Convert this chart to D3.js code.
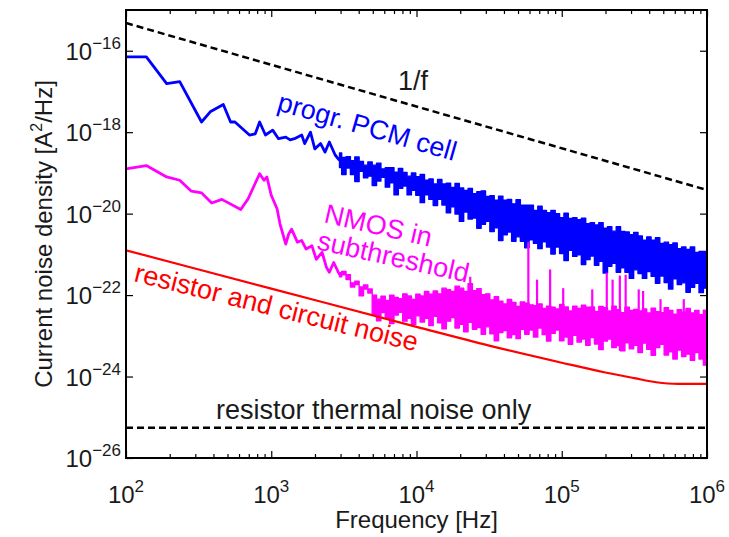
<!DOCTYPE html>
<html>
<head>
<meta charset="utf-8">
<script src="https://cdn.jsdelivr.net/npm/d3@7"></script>
<style>
body { margin: 0; background: #fff; }
text { font-family: "Liberation Sans", Arial, sans-serif; fill: #1a1a1a; }
</style>
</head>
<body>
<svg id="chart" width="729" height="537"></svg>
<script>
"use strict";

// all values are log10: frequency in Hz, noise density in A^2/Hz
const xDecades = [2, 3, 4, 5, 6];
const yDecades = [-26, -24, -22, -20, -18, -16];

const oneOverF = { logF: [2, 6], logS: [-15.32, -19.42] };
const thermal = { logF: [2, 6], logS: [-25.26, -25.26] };

const circuitLogF = [2.0, 3.0, 4.0, 4.5, 5.0, 5.3, 5.5, 5.65, 5.8, 6.0];
const circuitLogS = [-20.90, -21.84, -22.78, -23.24, -23.66, -23.90, -24.04, -24.14, -24.18, -24.18];

// single trace at low frequency
const pcmLowLogF = [2.00, 2.14, 2.28, 2.37, 2.52, 2.58, 2.67, 2.72, 2.75, 2.85, 2.89, 2.92, 2.96,
    3.01, 3.05, 3.10, 3.13, 3.16, 3.21, 3.23, 3.27, 3.30, 3.34, 3.37, 3.40, 3.44];
const pcmLowLogS = [-16.15, -16.15, -16.81, -16.76, -17.75, -17.50, -17.32, -17.75, -17.75, -18.07, -18.04, -17.75, -18.07,
    -17.95, -18.16, -18.12, -18.19, -18.16, -18.07, -18.28, -18.00, -18.41, -18.28, -18.49, -18.24, -18.56];

const nmosLowLogF = [2.00, 2.14, 2.28, 2.37, 2.45, 2.52, 2.59, 2.66, 2.79, 2.84, 2.92, 2.95, 2.97, 3.00,
    3.04, 3.06, 3.10, 3.12, 3.14, 3.18, 3.21, 3.24, 3.28, 3.31, 3.35, 3.38, 3.40, 3.43];
const nmosLowLogS = [-18.90, -18.82, -19.10, -19.18, -19.45, -19.49, -19.74, -19.65, -19.90, -19.64, -19.02, -19.18, -19.10, -19.55,
    -19.88, -20.25, -20.75, -20.50, -20.38, -20.70, -20.66, -20.87, -20.79, -21.12, -20.95, -21.32, -21.44, -21.20];

// dense part: max / min of the trace in each frequency bin
const binLogF = [3.47, 3.50, 3.53, 3.56, 3.59, 3.62, 3.65, 3.68, 3.71, 3.74, 3.77, 3.80, 3.83, 3.86, 3.89, 3.92, 3.95, 3.98,
    4.01, 4.04, 4.07, 4.10, 4.13, 4.16, 4.19, 4.22, 4.25, 4.28, 4.31, 4.34, 4.37, 4.40, 4.43, 4.46, 4.49, 4.52, 4.55, 4.58,
    4.61, 4.64, 4.67, 4.70, 4.73, 4.76, 4.79, 4.82, 4.85, 4.88, 4.91, 4.94, 4.97, 5.00, 5.03, 5.06, 5.09, 5.12, 5.15, 5.18,
    5.21, 5.24, 5.27, 5.30, 5.33, 5.36, 5.39, 5.42, 5.45, 5.48, 5.51, 5.54, 5.57, 5.60, 5.63, 5.66, 5.69, 5.72, 5.75, 5.78,
    5.81, 5.84, 5.87, 5.90, 5.93, 5.96, 5.99];

const pcmHi = [-18.51, -18.62, -18.60, -18.70, -18.61, -18.72, -18.81, -18.73, -18.81, -18.76, -18.90, -18.87, -18.87, -18.98,
    -18.89, -18.99, -19.08, -19.00, -19.09, -19.04, -19.18, -19.15, -19.27, -19.16, -19.27, -19.25, -19.36, -19.26, -19.37,
    -19.43, -19.38, -19.51, -19.46, -19.44, -19.58, -19.56, -19.67, -19.57, -19.67, -19.65, -19.76, -19.66, -19.79, -19.79,
    -19.79, -19.92, -19.82, -19.92, -19.98, -19.92, -20.00, -20.10, -19.99, -20.12, -20.10, -20.15, -20.11, -20.25, -20.22,
    -20.28, -20.22, -20.36, -20.32, -20.43, -20.32, -20.44, -20.45, -20.52, -20.46, -20.55, -20.65, -20.57, -20.65, -20.59,
    -20.73, -20.70, -20.76, -20.72, -20.86, -20.82, -20.88, -20.82, -20.95, -20.93, -20.93];
const pcmLo = [-18.87, -19.04, -18.88, -19.04, -19.21, -18.96, -19.12, -19.08, -19.31, -19.20, -19.11, -19.35, -19.24, -19.54,
    -19.38, -19.32, -19.54, -19.43, -19.55, -19.73, -19.54, -19.65, -19.80, -19.65, -19.79, -19.98, -19.83, -20.01, -20.19,
    -19.96, -20.13, -20.11, -20.36, -20.26, -20.19, -20.44, -20.35, -20.66, -20.52, -20.45, -20.68, -20.57, -20.68, -20.84,
    -20.64, -20.73, -20.86, -20.69, -20.82, -20.99, -20.82, -20.98, -21.15, -20.90, -21.05, -21.01, -21.25, -21.13, -21.04,
    -21.27, -21.17, -21.46, -21.29, -21.22, -21.44, -21.33, -21.44, -21.59, -21.38, -21.47, -21.59, -21.42, -21.54, -21.71,
    -21.53, -21.69, -21.85, -21.60, -21.74, -21.70, -21.93, -21.81, -21.71, -21.94, -21.83];

const nmosHi = [-21.45, -21.42, -21.50, -21.70, -21.66, -21.80, -21.75, -21.85, -22.00, -22.10, -22.03, -22.13, -22.00, -22.06,
    -22.09, -21.97, -22.02, -22.11, -21.98, -22.02, -21.91, -21.98, -21.90, -21.97, -21.83, -21.87, -21.91, -21.78, -21.83,
    -21.91, -21.72, -21.89, -21.84, -21.99, -21.97, -22.12, -22.04, -22.15, -22.22, -22.11, -22.18, -22.28, -22.17, -22.20,
    -22.24, -22.26, -22.22, -22.33, -22.27, -22.30, -22.34, -22.23, -22.29, -22.39, -22.27, -22.33, -22.25, -22.30, -22.29,
    -22.40, -22.28, -22.31, -22.39, -22.27, -22.36, -22.43, -22.30, -22.38, -22.35, -22.39, -22.34, -22.44, -22.32, -22.41,
    -22.43, -22.31, -22.38, -22.47, -22.36, -22.42, -22.33, -22.44, -22.38, -22.48, -22.37];
const nmosLo = [-21.55, -21.50, -21.62, -21.80, -21.74, -22.02, -21.85, -21.95, -22.49, -22.63, -22.43, -22.57, -22.70, -22.49,
    -22.42, -22.64, -22.57, -22.72, -22.51, -22.66, -22.57, -22.75, -22.52, -22.68, -22.83, -22.64, -22.55, -22.81, -22.72,
    -22.90, -22.67, -22.84, -22.80, -22.96, -22.78, -22.95, -23.12, -22.92, -22.87, -23.05, -22.97, -23.07, -22.84, -22.96,
    -22.86, -23.03, -22.81, -22.97, -23.13, -22.94, -22.86, -23.12, -23.03, -23.21, -22.99, -23.15, -23.08, -23.23, -23.04,
    -23.20, -23.34, -23.13, -23.08, -23.29, -23.24, -23.37, -23.17, -23.32, -23.23, -23.41, -23.18, -23.33, -23.48, -23.29,
    -23.21, -23.47, -23.39, -23.57, -23.35, -23.51, -23.45, -23.60, -23.41, -23.57, -23.72];

// isolated interference lines in the NMOS spectrum
const nmosSpikeLogF = [4.37, 4.77, 4.83, 4.92, 5.01, 5.21, 5.31, 5.35, 5.40, 5.44, 5.53, 5.56, 5.68, 5.84];
const nmosSpikeLogS = [-21.55, -20.70, -21.62, -21.37, -21.83, -21.86, -21.45, -21.62, -21.52, -21.50, -21.86, -21.90, -22.10, -22.10];

const margin = { left: 126, right: 22, top: 10, bottom: 79 };
const width = 729, height = 537;

let svg = d3.select("#chart");
let x = d3.scaleLog().domain([1e2, 1e6]).range([margin.left, width - margin.right]);
let y = d3.scaleLog().domain([1e-26, 1e-15]).range([height - margin.bottom, margin.top]);
let px = lf => x(Math.pow(10, lf));
let py = ls => y(Math.pow(10, ls));

svg.append("clipPath").attr("id", "plotClip")
    .append("rect")
    .attr("x", margin.left).attr("y", margin.top)
    .attr("width", width - margin.left - margin.right)
    .attr("height", height - margin.top - margin.bottom);

let plot = svg.append("g").attr("clip-path", "url(#plotClip)");

let line = d3.line().x(d => px(d[0])).y(d => py(d[1]));

function drawTrace(lowF, lowS, hi, lo, color) {
    // low-frequency part as a plain line, ending in the middle of the first bin
    let pts = lowF.map((f, i) => [f, lowS[i]]);
    pts.push([binLogF[0], (hi[0] + lo[0]) / 2]);
    plot.append("path")
        .attr("d", line(pts))
        .attr("fill", "none")
        .attr("stroke", color)
        .attr("stroke-width", 2.8)
        .attr("stroke-linejoin", "round");

    // dense part: band between bin minima and maxima
    let band = d3.area()
        .curve(d3.curveStep)
        .x(f => px(f))
        .y0((f, i) => py(lo[i]))
        .y1((f, i) => py(hi[i]));
    plot.append("path")
        .attr("d", band(binLogF))
        .attr("fill", color)
        .attr("stroke", color)
        .attr("stroke-width", 1.4)
        .attr("stroke-linejoin", "round");
}

drawTrace(pcmLowLogF, pcmLowLogS, pcmHi, pcmLo, "#0000ff");
drawTrace(nmosLowLogF, nmosLowLogS, nmosHi, nmosLo, "#ff00ff");

plot.append("g")
    .selectAll("line")
    .data(nmosSpikeLogF)
    .join("line")
    .attr("x1", f => px(f))
    .attr("x2", f => px(f))
    .attr("y1", (f, i) => py(nmosSpikeLogS[i]))
    .attr("y2", f => py(nmosLo[d3.bisectLeft(binLogF, f)]))
    .attr("stroke", "#ff00ff")
    .attr("stroke-width", 2.2);

plot.append("path")
    .attr("d", d3.line().curve(d3.curveMonotoneX).x(d => px(d[0])).y(d => py(d[1]))(circuitLogF.map((f, i) => [f, circuitLogS[i]])))
    .attr("fill", "none")
    .attr("stroke", "#ff0000")
    .attr("stroke-width", 2.2);

[oneOverF, thermal].forEach(s => {
    plot.append("path")
        .attr("d", line(s.logF.map((f, i) => [f, s.logS[i]])))
        .attr("fill", "none")
        .attr("stroke", "#000")
        .attr("stroke-width", 2.5)
        .attr("stroke-dasharray", "7,4");
});

// axes box and ticks (inward, matlab style)
let minorX = [];
for (let d = 2; d < 6; d++) {
    for (let m = 2; m <= 9; m++) minorX.push(m * Math.pow(10, d));
}
let majorX = xDecades.map(d => Math.pow(10, d));
let majorY = yDecades.map(d => Math.pow(10, d));
let plotH = height - margin.top - margin.bottom;
let plotW = width - margin.left - margin.right;

function tickAxis(axis, transform, size, values) {
    let g = svg.append("g")
        .attr("transform", transform)
        .call(axis.tickValues(values).tickSize(size).tickFormat(""));
    g.select(".domain").remove();
    g.selectAll(".tick line").attr("stroke", "#000").attr("stroke-width", 1.2);
    return g;
}

tickAxis(d3.axisBottom(x), `translate(0,${height - margin.bottom})`, -7, majorX);
tickAxis(d3.axisBottom(x), `translate(0,${height - margin.bottom})`, -4, minorX);
tickAxis(d3.axisTop(x), `translate(0,${margin.top})`, -7, majorX);
tickAxis(d3.axisTop(x), `translate(0,${margin.top})`, -4, minorX);
tickAxis(d3.axisLeft(y), `translate(${margin.left},0)`, -7, majorY);
tickAxis(d3.axisRight(y), `translate(${width - margin.right},0)`, -7, majorY);

svg.append("rect")
    .attr("x", margin.left).attr("y", margin.top)
    .attr("width", plotW).attr("height", plotH)
    .attr("fill", "none")
    .attr("stroke", "#000")
    .attr("stroke-width", 2);

// tick labels 10^n
xDecades.forEach(d => {
    let t = svg.append("text")
        .attr("x", px(d))
        .attr("y", height - margin.bottom + 45)
        .attr("text-anchor", "middle")
        .style("font-size", "24px")
        .text("10");
    t.append("tspan").attr("dy", -11).style("font-size", "17px").text(d);
});

yDecades.forEach(d => {
    let t = svg.append("text")
        .attr("x", margin.left - 5)
        .attr("y", py(d) + 9)
        .attr("text-anchor", "end")
        .style("font-size", "24px")
        .text("10");
    t.append("tspan").attr("dy", -11).style("font-size", "17px").text("\u2212" + Math.abs(d));
});

svg.append("text")
    .attr("x", margin.left + plotW / 2)
    .attr("y", 528)
    .attr("text-anchor", "middle")
    .style("font-size", "24px")
    .text("Frequency [Hz]");

let ylab = svg.append("text")
    .attr("transform", `translate(52,${margin.top + plotH / 2}) rotate(-90)`)
    .attr("text-anchor", "middle")
    .style("font-size", "24px")
    .text("Current noise density [A");
ylab.append("tspan").attr("dy", -10).style("font-size", "16px").text("2");
ylab.append("tspan").attr("dy", 10).text("/Hz]");

// curve annotations
const notes = [
    { text: "1/f", x: 398, y: 90, angle: 0, color: "#1a1a1a" },
    { text: "progr. PCM cell", x: 276, y: 110, angle: 16, color: "#0000ff" },
    { text: "NMOS in", x: 323, y: 222, angle: 13, color: "#ff00ff" },
    { text: "subthreshold", x: 316, y: 249, angle: 12.5, color: "#ff00ff" },
    { text: "resistor and circuit noise", x: 133, y: 281, angle: 14, color: "#ff0000" },
    { text: "resistor thermal noise only", x: 216, y: 419, angle: 0, color: "#1a1a1a" }
];

notes.forEach(n => {
    svg.append("text")
        .attr("transform", `translate(${n.x},${n.y}) rotate(${n.angle})`)
        .style("font-size", "27px")
        .style("fill", n.color)
        .text(n.text);
});
</script>
</body>
</html>
